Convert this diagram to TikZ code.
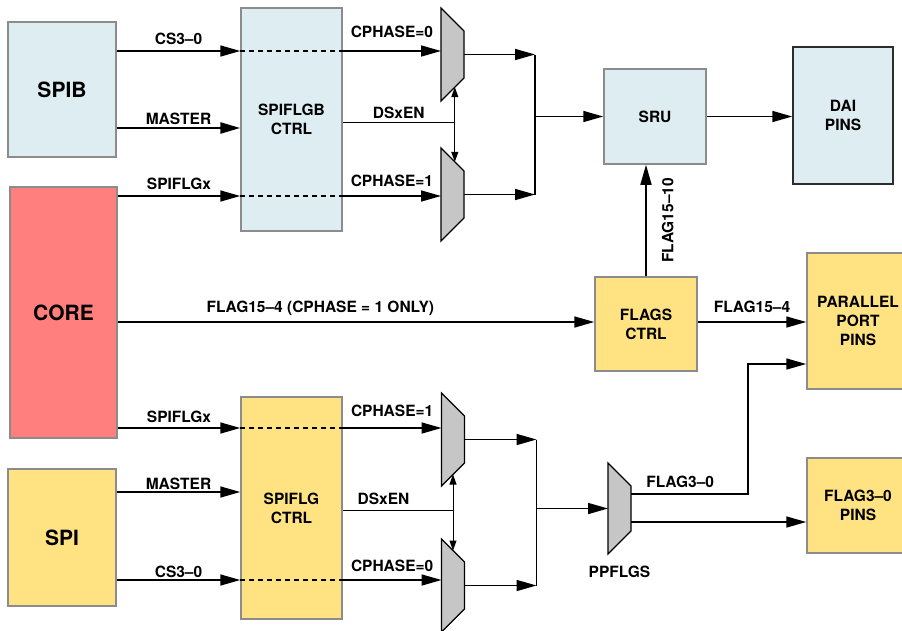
\documentclass[tikz,border=0pt]{standalone}
\usepackage{fontspec}
\setmainfont{TeX Gyre Heros}
\usetikzlibrary{positioning,arrows.meta,calc}
\definecolor{spiblue}{RGB}{221,237,241}
\definecolor{flagyellow}{RGB}{255,227,130}
\definecolor{corered}{RGB}{255,126,126}
\definecolor{muxgray}{RGB}{198,198,198}
\definecolor{edgegray}{RGB}{140,140,140}
\definecolor{darkedge}{RGB}{45,45,45}

\begin{document}
\begin{tikzpicture}[
    x=1pt, y=-1pt,
    box/.style={draw=edgegray, line width=1.5pt, inner sep=0pt, align=center, font=\fontsize{15.5}{19}\selectfont\bfseries},
    bluebox/.style={box, fill=spiblue},
    yellowbox/.style={box, fill=flagyellow},
    bigtext/.style={font=\fontsize{21}{25}\selectfont\bfseries},
    muxbox/.style={minimum width=23pt, minimum height=93pt, inner sep=0pt, outer sep=0pt},
    mux/.style={draw, fill=muxgray, line width=1.3pt},
    arr/.style={-{Triangle[length=20pt, width=11pt]}, line width=1.6pt},
    thickarr/.style={arr, line width=2.6pt},
    sel/.style={{Triangle[length=10pt, width=7pt]}-{Triangle[length=10pt, width=7pt]}, line width=1pt},
    wire/.style={line width=1pt},
    bus/.style={line width=1.6pt},
    pass/.style={dash pattern=on 5pt off 4pt, line width=1.4pt},
    lbl/.style={inner sep=0pt, font=\fontsize{15.5}{19}\selectfont\bfseries}
]
\useasboundingbox (0,0) rectangle (902,630);

\node[bluebox, bigtext, minimum width=108pt, minimum height=135pt] (spib) at (62,89.5) {SPIB};
\node[box, bigtext, fill=corered, minimum width=107pt, minimum height=251pt] (core) at (63.5,312.5) {CORE};
\node[yellowbox, bigtext, minimum width=108pt, minimum height=137pt] (spi) at (62,537.5) {SPI};
\node[bluebox, minimum width=101pt, minimum height=223pt] (sbctrl) at (291.5,119.5) {SPIFLGB\\CTRL};
\node[yellowbox, minimum width=101pt, minimum height=222pt] (sctrl) at (291.5,508) {SPIFLG\\CTRL};
\node[bluebox, minimum width=102pt, minimum height=95pt] (sru) at (655,116.5) {SRU};
\node[bluebox, draw=darkedge, minimum width=100pt, minimum height=137pt] (dai) at (843,115.5) {DAI\\PINS};
\node[yellowbox, minimum width=102pt, minimum height=94pt] (flags) at (646,324) {FLAGS\\CTRL};
\node[yellowbox, minimum width=102pt, minimum height=136pt] (ppins) at (858,321) {PARALLEL\\PORT\\PINS};
\node[yellowbox, minimum width=102pt, minimum height=95pt] (fpins) at (858,505.5) {FLAG3--0\\PINS};

\node[muxbox] (muxA) at (452.5,54.5) {};
\node[muxbox] (muxB) at (452.5,194.5) {};
\node[muxbox] (muxC) at (453,439.5) {};
\node[muxbox] (muxD) at (453,585.5) {};
\node[muxbox, minimum height=91pt] (muxP) at (619.5,508.5) {};
\foreach \m in {muxA,muxB,muxC,muxD,muxP}
    \draw[mux] (\m.north west) -- ([yshift=-23pt]\m.north east) -- ([yshift=23pt]\m.south east) -- (\m.south west) -- cycle;
\node[lbl, below=12pt of muxP] (ppflgs) {PPFLGS};

\draw[arr] ([yshift=38.5pt]spib.east) coordinate (csB) -- (csB -| sbctrl.west) node[lbl, midway, above=6pt] {CS3--0};
\draw[pass] (csB -| sbctrl.west) -- (csB -| sbctrl.east);
\draw[arr] (csB -| sbctrl.east) -- (csB -| muxA.west) node[lbl, midway, above=13pt] {CPHASE=0};
\draw[thickarr] ([yshift=-38.5pt]spib.east) coordinate (msB) -- (msB -| sbctrl.west) node[lbl, midway, above=2pt] {MASTER};
\draw[arr] ([yshift=116.5pt]core.east) coordinate (fxB) -- (fxB -| sbctrl.west) node[lbl, midway, above=6pt] {SPIFLGx};
\draw[pass] (fxB -| sbctrl.west) -- (fxB -| sbctrl.east);
\draw[arr] (fxB -| sbctrl.east) -- (fxB -| muxB.west) node[lbl, midway, above=9pt] {CPHASE=1};

\coordinate (selA) at ($(muxA.south west)!0.6!([yshift=23pt]muxA.south east)$);
\coordinate (selB) at ($(muxB.north west)!0.6!([yshift=-23pt]muxB.north east)$);
\draw[sel] (selA) -- (selB);
\draw[wire] ([yshift=-2.5pt]sbctrl.east) coordinate (dsB) -- (dsB -| selA) node[lbl, midway, above=3pt] {DSxEN};

\coordinate (busA) at ($(muxA.east)+(71,0)$);
\draw[arr] (muxA.east) -- (muxA.east -| busA);
\draw[arr] (muxB.east) -- (muxB.east -| busA);
\draw[bus] (muxA.east -| busA) -- (muxB.east -| busA);
\draw[arr] (busA |- sru.west) -- (sru.west);
\draw[arr] (sru.east) -- (sru.east -| dai.west);
\draw[arr] (flags.north) -- (flags.north |- sru.south) node[lbl, midway, sloped, below=15pt] {FLAG15--10};

\draw[arr] ([yshift=-9.5pt]core.east) coordinate (fl) -- (fl -| flags.west) node[lbl, pos=0.425, above=6pt] {FLAG15--4 (CPHASE = 1 ONLY)};
\draw[arr] (flags.east |- fl) -- (fl -| ppins.west) node[lbl, midway, above=9pt] {FLAG15--4};

\draw[arr] ([yshift=-115.5pt]core.east) coordinate (fx) -- (fx -| sctrl.west) node[lbl, midway, above=5pt] {SPIFLGx};
\draw[pass] (fx -| sctrl.west) -- (fx -| sctrl.east);
\draw[arr] (fx -| sctrl.east) -- (fx -| muxC.west) node[lbl, midway, above=11pt] {CPHASE=1};
\draw[arr] ([yshift=45.5pt]spi.east) coordinate (ms) -- (ms -| sctrl.west) node[lbl, midway, above=2pt] {MASTER};
\draw[arr] ([yshift=-42.5pt]spi.east) coordinate (cs) -- (cs -| sctrl.west) node[lbl, midway, above=2pt] {CS3--0};
\draw[pass] (cs -| sctrl.west) -- (cs -| sctrl.east);
\draw[arr] (cs -| sctrl.east) -- (cs -| muxD.west) node[lbl, midway, above=8pt] {CPHASE=0};

\coordinate (selC) at ($(muxC.south west)!0.5!([yshift=23pt]muxC.south east)$);
\coordinate (selD) at ($(muxD.north west)!0.5!([yshift=-23pt]muxD.north east)$);
\draw[sel] (selC) -- (selD);
\draw[wire] ([yshift=-2pt]sctrl.east) coordinate (ds) -- (ds -| selC) node[lbl, pos=0.37, above=5pt] {DSxEN};

\coordinate (busC) at ($(muxC.east)+(72,0)$);
\draw[arr] (muxC.east) -- (muxC.east -| busC);
\draw[arr] (muxD.east) -- (muxD.east -| busC);
\draw[bus] (muxC.east -| busC) -- (muxD.east -| busC);
\draw[arr] (busC |- muxP.west) -- (muxP.west);

\coordinate (turn) at ($(muxP.east)+(117,0)$);
\draw[arr] ([yshift=14.5pt]muxP.east) coordinate (fa) -- (fa -| turn) node[lbl, pos=0.42, above=6pt] {FLAG3--0} |- ([yshift=-43pt]ppins.west);
\draw[arr] ([yshift=-13.5pt]muxP.east) coordinate (fb) -- (fb -| fpins.west);
\end{tikzpicture}
\end{document}
